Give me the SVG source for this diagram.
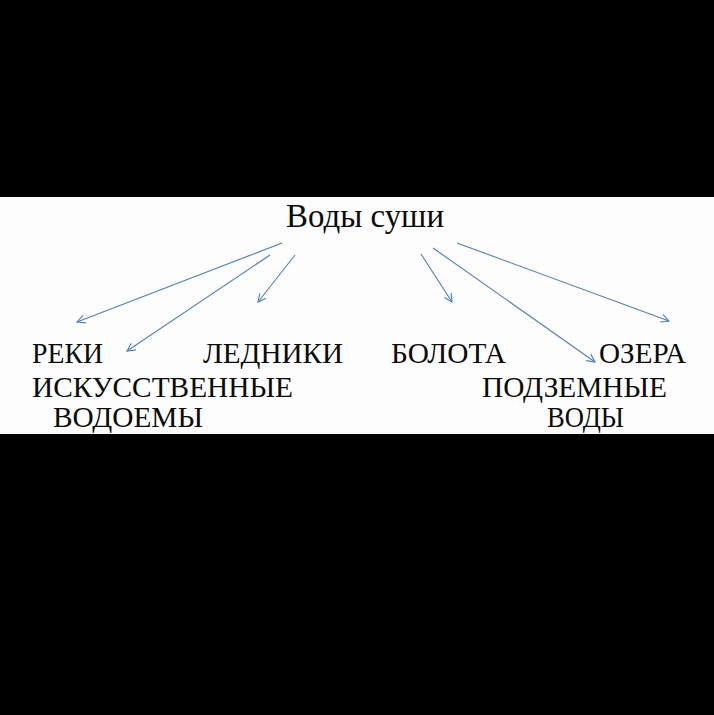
<svg xmlns="http://www.w3.org/2000/svg" width="714" height="715" viewBox="0 0 714 715">
<style>
  .t { font-family: "Liberation Serif", "Times New Roman", serif; fill: #0a0a0a; }
  .lbl { font-size: 30px; }
  .title { font-size: 33px; }
  .c line { stroke: #4f7fb3; stroke-width: 1.1; fill: none; marker-end: url(#ah); }
</style>
<defs>
  <marker id="ah" markerUnits="userSpaceOnUse" markerWidth="12" markerHeight="12" refX="9" refY="5" orient="auto">
    <path d="M1,1 L9,5 L1,9" fill="none" stroke="#4f7fb3" stroke-width="1.1"/>
  </marker>
</defs>
<rect x="0" y="0" width="714" height="715" fill="#000"/>
<rect x="0" y="197" width="714" height="237" fill="#fdfdfd"/>
<g id="root"><text class="t title" x="286" y="227" textLength="158" lengthAdjust="spacingAndGlyphs">Воды суши</text></g>
<g id="reki"><text class="t lbl" x="32" y="363" textLength="71" lengthAdjust="spacingAndGlyphs">РЕКИ</text></g>
<g id="ledniki"><text class="t lbl" x="203" y="363" textLength="140" lengthAdjust="spacingAndGlyphs">ЛЕДНИКИ</text></g>
<g id="bolota"><text class="t lbl" x="391" y="363" textLength="115" lengthAdjust="spacingAndGlyphs">БОЛОТА</text></g>
<g id="ozera"><text class="t lbl" x="599" y="363" textLength="87" lengthAdjust="spacingAndGlyphs">ОЗЕРА</text></g>
<g id="iskusstvennye">
  <text class="t lbl" x="32" y="397" textLength="261" lengthAdjust="spacingAndGlyphs">ИСКУССТВЕННЫЕ</text>
  <text class="t lbl" x="53" y="427" textLength="150" lengthAdjust="spacingAndGlyphs">ВОДОЕМЫ</text>
</g>
<g id="podzemnye">
  <text class="t lbl" x="482" y="397" textLength="185" lengthAdjust="spacingAndGlyphs">ПОДЗЕМНЫЕ</text>
  <text class="t lbl" x="547" y="427" textLength="77" lengthAdjust="spacingAndGlyphs">ВОДЫ</text>
</g>
<g id="connectors" class="c">
  <line x1="282" y1="243" x2="77" y2="322"/>
  <line x1="270" y1="255" x2="127" y2="351"/>
  <line x1="295" y1="255" x2="258" y2="302"/>
  <line x1="421" y1="254" x2="452" y2="302"/>
  <line x1="433" y1="248" x2="595" y2="362"/>
  <line x1="457" y1="243" x2="669" y2="321"/>
</g>
</svg>
